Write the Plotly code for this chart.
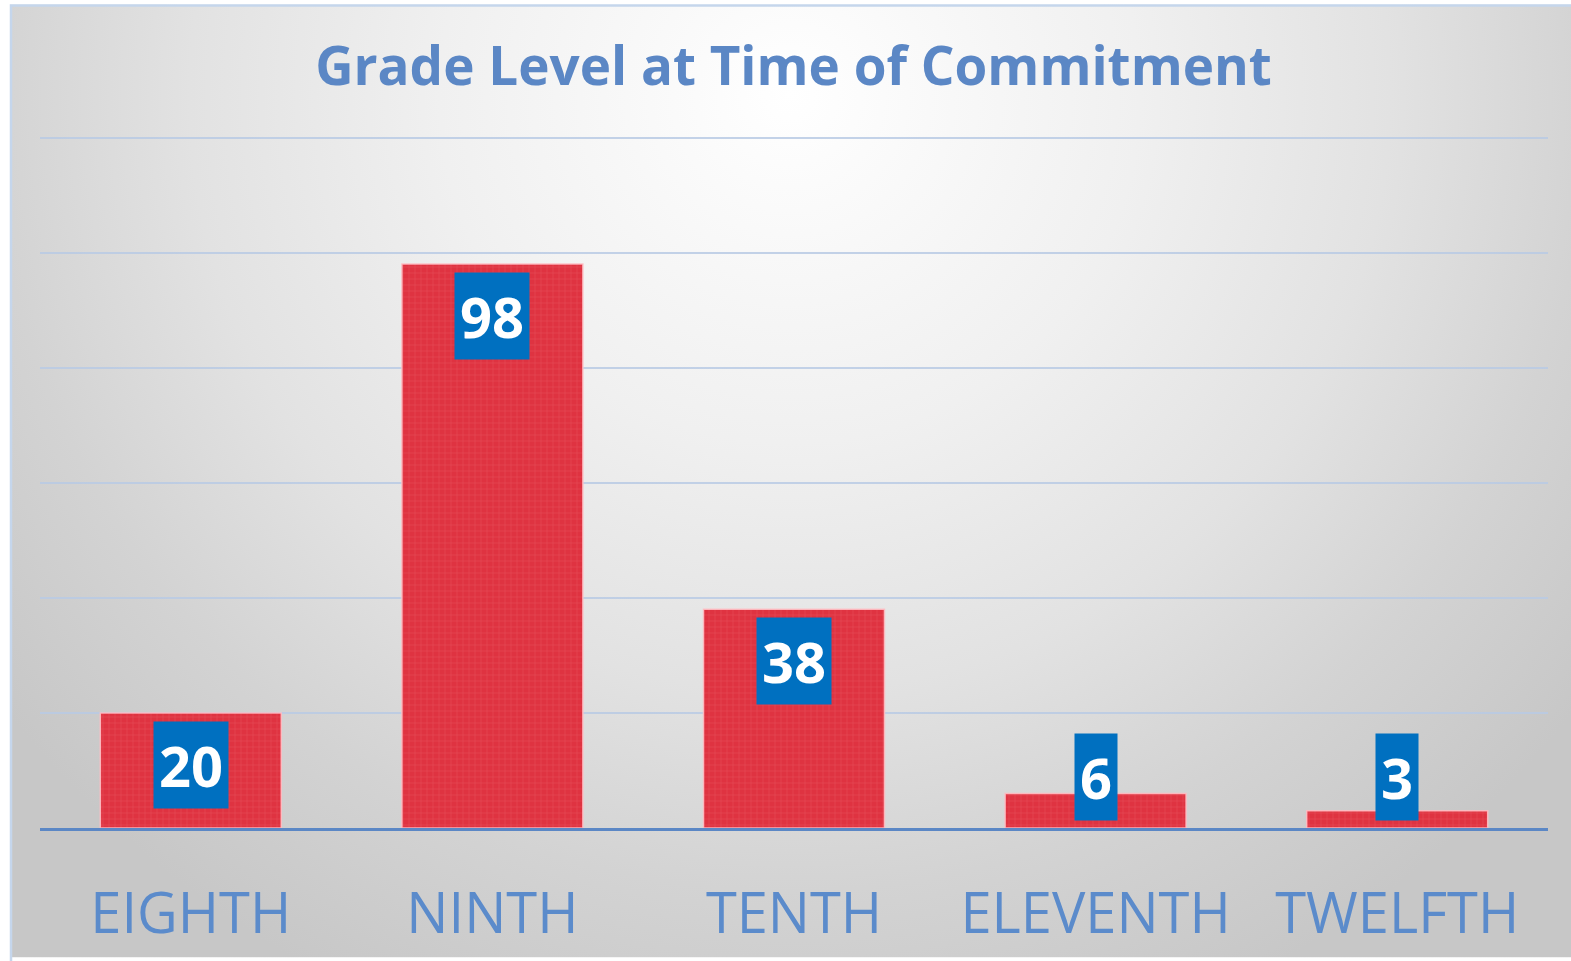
import base64
import plotly.graph_objects as go

categories = ["EIGHTH", "NINTH", "TENTH", "ELEVENTH", "TWELFTH"]
values = [20, 98, 38, 6, 3]
title_text = "Grade Level at Time of Commitment"

W, H = 1571, 961
ML, MR, MT, MB = 40, 23, 126, 130
YMAX = 122
plot_h = H - MT - MB
plot_w = W - ML - MR

def px_to_paper_x(px):
    return (px - ML) / plot_w

def px_to_paper_y(py):
    return (H - MB - py) / plot_h

svg = f'''<svg xmlns="http://www.w3.org/2000/svg" width="1561" height="957" viewBox="0 0 1561 957" preserveAspectRatio="none">
<defs><radialGradient id="g" gradientUnits="userSpaceOnUse" cx="780" cy="90" r="1000">
<stop offset="0" stop-color="#ffffff"/>
<stop offset="0.35" stop-color="#f0f0f0"/>
<stop offset="0.6" stop-color="#e2e2e2"/>
<stop offset="0.8" stop-color="#d3d3d3"/>
<stop offset="1" stop-color="#c7c7c7"/>
</radialGradient></defs>
<rect x="0" y="0" width="1561" height="957" fill="url(#g)"/>
</svg>'''
src = "data:image/svg+xml;base64," + base64.b64encode(svg.encode()).decode()

fig = go.Figure()
fig.add_trace(go.Bar(
    x=categories, y=values,
    marker=dict(color="#df3341",
                line=dict(color="rgba(255,190,195,0.9)", width=1.5),
                pattern=dict(shape="+", fgcolor="#f27a83", size=6, solidity=0.12)),
    hoverinfo="skip",
))

box_px = 85
px_per_unit = plot_h / YMAX
label_font = dict(family="Open Sans", size=56, color="white", weight=700)
annotations = []
for c, v in zip(categories, values):
    if v * px_per_unit >= box_px + 16:
        annotations.append(dict(x=c, y=v, xref="x", yref="y", yanchor="top", yshift=-8,
                                text=str(v), showarrow=False, font=label_font,
                                bgcolor="#0070c0", borderpad=5))
    else:
        annotations.append(dict(x=c, y=0, xref="x", yref="y", yanchor="bottom", yshift=7,
                                text=str(v), showarrow=False, font=label_font,
                                bgcolor="#0070c0", borderpad=5))

fig.update_layout(
    width=W, height=H,
    margin=dict(l=ML, r=MR, t=MT, b=MB, pad=0),
    paper_bgcolor="white", plot_bgcolor="rgba(0,0,0,0)",
    bargap=0.4,
    showlegend=False,
    title=dict(text=title_text, x=793.5 / W, xanchor="center", xref="container",
               y=1 - 66 / H, yanchor="middle", yref="container",
               font=dict(family="Open Sans", size=53, color="#5b87c5", weight=700)),
    xaxis=dict(showgrid=False, showline=True, linecolor="#5b87c5", linewidth=3,
               ticks="", tickfont=dict(family="Open Sans", size=56, color="#5b8bcb"),
               ticklabelstandoff=35, fixedrange=True),
    yaxis=dict(range=[0, YMAX], dtick=20, showticklabels=False, showgrid=True,
               gridcolor="rgba(185,202,228,0.85)", gridwidth=1.5, zeroline=False,
               fixedrange=True),
    annotations=annotations,
    images=[dict(source=src, xref="paper", yref="paper",
                 x=px_to_paper_x(10), y=px_to_paper_y(4),
                 sizex=px_to_paper_x(W) - px_to_paper_x(10),
                 sizey=px_to_paper_y(4) - px_to_paper_y(H),
                 xanchor="left", yanchor="top", sizing="stretch", layer="below")],
    shapes=[dict(type="rect", xref="paper", yref="paper",
                 x0=px_to_paper_x(11), y0=px_to_paper_y(H + 5),
                 x1=px_to_paper_x(W + 5), y1=px_to_paper_y(5),
                 line=dict(color="#c5d6ec", width=2.5), fillcolor="rgba(0,0,0,0)",
                 layer="below")],
)

fig.write_html("out.html", config={"displayModeBar": False},
               post_script="document.body.style.margin='0';document.body.style.overflow='hidden';")
